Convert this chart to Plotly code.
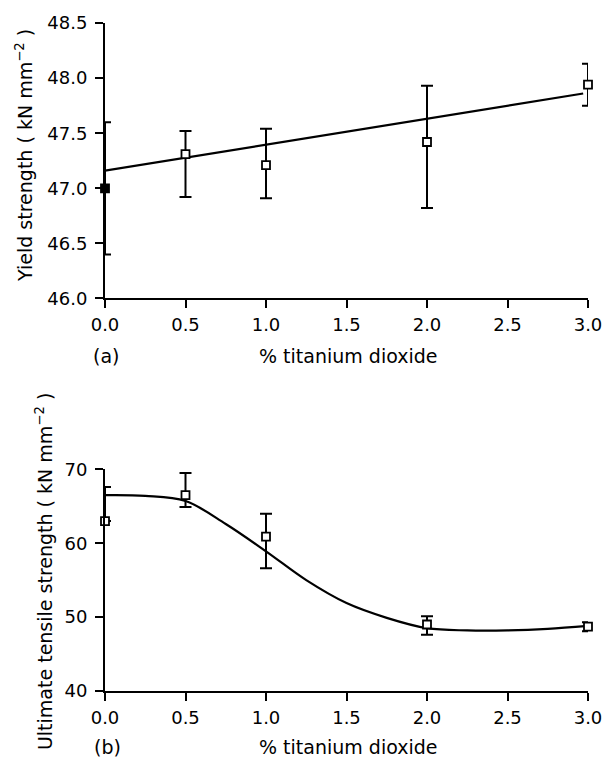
import plotly.graph_objects as go

# ---- data -------------------------------------------------------------
tio2 = [0.0, 0.5, 1.0, 2.0, 3.0]

# (a) yield strength, kN mm^-2
yield_mean = [47.0, 47.31, 47.21, 47.42, 47.94]
yield_err_plus = [0.60, 0.21, 0.33, 0.51, 0.19]
yield_err_minus = [0.60, 0.39, 0.30, 0.60, 0.19]
yield_fit_x = [0.0, 2.97]
yield_fit_y = [47.16, 47.86]

# (b) ultimate tensile strength, kN mm^-2
uts_mean = [63.0, 66.5, 60.9, 49.0, 48.7]
uts_err_plus = [4.6, 3.0, 3.1, 1.1, 0.6]
uts_err_minus = [0.0, 1.6, 4.3, 1.4, 0.6]
uts_curve_x = [0.0, 0.25, 0.5, 0.75, 1.0, 1.25, 1.5, 1.75, 2.0, 2.25, 2.5, 2.75, 3.0]
uts_curve_y = [66.5, 66.4, 65.7, 62.6, 58.9, 55.0, 51.9, 49.9, 48.5, 48.2, 48.2, 48.4, 48.8]

x_ticks = [0.0, 0.5, 1.0, 1.5, 2.0, 2.5, 3.0]
yield_ticks = [46.0, 46.5, 47.0, 47.5, 48.0, 48.5]
uts_ticks = [40, 50, 60, 70]

x_title = "% titanium dioxide"
yield_title = "Yield strength ( kN mm<sup>−2</sup> )"
uts_title = "Ultimate tensile strength ( kN mm<sup>−2</sup> )"

# ---- figure -----------------------------------------------------------
FONT = "DejaVu Sans"
W, H = 614, 757
ML, MR, MT, MB = 105, 14, 20, 66
PW, PH = W - ML - MR, H - MT - MB


def px_x(p):
    return (p - ML) / PW


def px_y(p):
    return (H - MB - p) / PH


fig = go.Figure()

# (a)
fig.add_trace(go.Scatter(
    x=yield_fit_x, y=yield_fit_y, mode="lines",
    line=dict(color="black", width=2.2), xaxis="x", yaxis="y",
    cliponaxis=False, hoverinfo="skip"))
fig.add_trace(go.Scatter(
    x=tio2, y=yield_mean, mode="markers", xaxis="x", yaxis="y",
    marker=dict(symbol="square", size=8,
                color=["black", "white", "white", "white", "white"],
                line=dict(color="black", width=1.8)),
    error_y=dict(type="data", symmetric=False, array=yield_err_plus,
                 arrayminus=yield_err_minus, color="black",
                 thickness=2, width=6),
    cliponaxis=False))

# (b)
fig.add_trace(go.Scatter(
    x=uts_curve_x, y=uts_curve_y, mode="lines",
    line=dict(color="black", width=2.2, shape="spline", smoothing=1.0),
    xaxis="x2", yaxis="y2", cliponaxis=False, hoverinfo="skip"))
fig.add_trace(go.Scatter(
    x=tio2, y=uts_mean, mode="markers", xaxis="x2", yaxis="y2",
    marker=dict(symbol="square", size=8, color="white",
                line=dict(color="black", width=1.8)),
    error_y=dict(type="data", symmetric=False, array=uts_err_plus,
                 arrayminus=uts_err_minus, color="black",
                 thickness=2, width=6),
    cliponaxis=False))

axis_common = dict(
    showline=True, linecolor="black", linewidth=2, mirror=False,
    ticks="outside", ticklen=8, tickwidth=2, tickcolor="black",
    showgrid=False, zeroline=False, ticklabeloverflow="allow",
    tickfont=dict(family=FONT, size=18, color="black"),
)

top_bottom = px_y(296.7)
bot_top = px_y(468.3)

fig.update_layout(
    width=W, height=H,
    margin=dict(l=ML, r=MR, t=MT, b=MB),
    paper_bgcolor="white", plot_bgcolor="white",
    showlegend=False,
    font=dict(family=FONT, size=18, color="black"),
    xaxis=dict(axis_common, domain=[0, 1], range=[0, 3], anchor="y",
               tickvals=x_ticks, tickformat=".1f", ticklabelstandoff=1),
    yaxis=dict(axis_common, domain=[top_bottom, 1.0], range=[46.0, 48.5],
               anchor="x", tickvals=yield_ticks, tickformat=".1f",
               ticklabelstandoff=4),
    xaxis2=dict(axis_common, domain=[0, 1], range=[0, 3], anchor="y2",
                tickvals=x_ticks, tickformat=".1f", ticklabelstandoff=1),
    yaxis2=dict(axis_common, domain=[0, bot_top], range=[40, 70],
                anchor="x2", tickvals=uts_ticks, ticklabelstandoff=4),
)

ann_font = dict(family=FONT, size=19, color="black")
annotations = [
    dict(text=yield_title, x=px_x(22), y=px_y(153.5), textangle=-90),
    dict(text=uts_title, x=px_x(42), y=px_y(571), textangle=-90),
    dict(text=x_title, x=px_x(354), y=px_y(354)),
    dict(text=x_title, x=px_x(354), y=px_y(747)),
    dict(text="(a)", x=px_x(106), y=px_y(354)),
    dict(text="(b)", x=px_x(108), y=px_y(747)),
]
for a in annotations:
    fig.add_annotation(xref="paper", yref="paper", showarrow=False,
                       xanchor="center", yanchor="middle", font=ann_font, **a)

fig.write_html("out.html")
